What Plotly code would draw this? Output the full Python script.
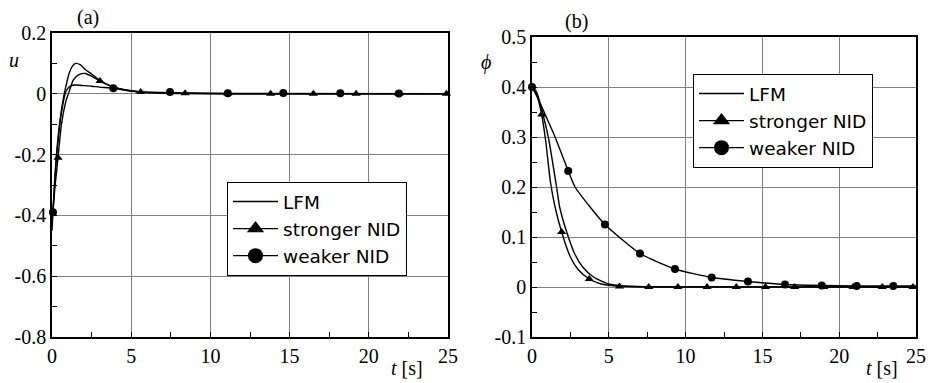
import plotly.graph_objects as go

# ---------------- data: panel (a)  u(t) ----------------
t_lfm_a = [0, 0.15, 0.3, 0.5, 0.7, 0.9, 1.1, 1.3, 1.5, 1.8, 2.1, 2.5, 3.0, 3.5, 4.0, 4.9, 6.0, 8.0, 12.0, 25.0]
u_lfm_a = [-0.45, -0.30, -0.19, -0.09, -0.02, 0.03, 0.07, 0.092, 0.10, 0.095, 0.08, 0.065, 0.045, 0.03, 0.02, 0.01, 0.004, 0.001, 0.0, 0.0]

t_str_a = [0, 0.2, 0.38, 0.6, 0.9, 1.1, 1.35, 1.7, 2.1, 2.5, 3.03, 3.5, 4.0, 4.9, 5.6, 7.0, 8.4, 12.0, 25.0]
u_str_a = [-0.42, -0.30, -0.21, -0.10, -0.02, 0.01, 0.046, 0.063, 0.067, 0.058, 0.042, 0.03, 0.02, 0.011, 0.006, 0.003, 0.002, 0.0, 0.0]

t_wk_a = [0.06, 0.3, 0.6, 0.9, 1.2, 1.45, 2.0, 2.5, 3.0, 3.87, 4.9, 5.6, 7.45, 11.0, 25.0]
u_wk_a = [-0.39, -0.20, -0.06, 0.01, 0.027, 0.029, 0.027, 0.025, 0.022, 0.018, 0.01, 0.006, 0.004, 0.001, 0.0]

tm_str_a = [0.38, 3.03, 5.6, 8.4, 11.1, 13.8, 16.5, 19.2, 21.9, 24.9]
um_str_a = [-0.21, 0.042, 0.006, 0.002, 0.001, 0.0, 0.0, 0.0, 0.0, 0.0]
tm_wk_a = [0.06, 3.87, 7.45, 11.1, 14.6, 18.2, 21.9]
um_wk_a = [-0.39, 0.018, 0.006, 0.002, 0.003, 0.002, 0.001]

# ---------------- data: panel (b)  phi(t) ----------------
t_lfm_b = [0, 0.3, 0.63, 1.06, 1.6, 1.8, 2.26, 2.8, 3.3, 4.0, 5.0, 6.0, 8.0, 25.0]
p_lfm_b = [0.40, 0.39, 0.355, 0.30, 0.20, 0.16, 0.11, 0.065, 0.04, 0.02, 0.006, 0.002, 0.0, 0.0]

t_str_b = [0, 0.3, 0.63, 0.9, 1.2, 1.5, 1.93, 2.5, 3.0, 3.73, 4.5, 5.5, 7.0, 25.0]
p_str_b = [0.40, 0.385, 0.345, 0.29, 0.21, 0.16, 0.11, 0.06, 0.035, 0.016, 0.006, 0.002, 0.0005, 0.0]

t_wk_b = [0, 0.5, 1.0, 1.5, 2.36, 2.8, 3.78, 4.75, 7.03, 9.31, 11.7, 14.06, 16.47, 18.86, 21.14, 23.52, 25.0]
p_wk_b = [0.40, 0.37, 0.335, 0.30, 0.232, 0.20, 0.16, 0.125, 0.067, 0.036, 0.019, 0.011, 0.005, 0.003, 0.002, 0.002, 0.002]

tm_str_b = [0.63, 1.93, 3.73, 5.7, 7.6, 9.5, 11.4, 13.3, 15.2, 17.1, 19.0, 20.9, 22.8, 24.8]
pm_str_b = [0.345, 0.11, 0.016, 0.001, 0.0, 0.0, 0.0, 0.0, 0.0, 0.0, 0.0, 0.0, 0.0, 0.0]
tm_wk_b = [0, 2.36, 4.75, 7.03, 9.31, 11.7, 14.06, 16.47, 18.86, 21.14, 23.52]
pm_wk_b = [0.40, 0.232, 0.125, 0.067, 0.036, 0.019, 0.011, 0.005, 0.003, 0.002, 0.002]

# ---------------- tick labels ----------------
x_ticks = [0, 5, 10, 15, 20, 25]
x_ticktext = ["0", "5", "10", "15", "20", "25"]
ya_ticks = [0.2, 0, -0.2, -0.4, -0.6, -0.8]
ya_ticktext = ["0.2", "0", "-0.2", "-0.4", "-0.6", "-0.8"]
yb_ticks = [0.5, 0.4, 0.3, 0.2, 0.1, 0, -0.1]
yb_ticktext = ["0.5", "0.4", "0.3", "0.2", "0.1", "0", "-0.1"]

series_names = ["LFM", "stronger NID", "weaker NID"]

# ---------------- figure ----------------
fig = go.Figure()
LW = 1.4
BLACK = "black"

def add_line(x, y, xa, ya):
    fig.add_trace(go.Scatter(x=x, y=y, mode="lines", xaxis=xa, yaxis=ya,
                             line=dict(color=BLACK, width=LW, shape="spline", smoothing=0.6),
                             showlegend=False, hoverinfo="skip"))

def add_marks(x, y, xa, ya, sym, size):
    fig.add_trace(go.Scatter(x=x, y=y, mode="markers", xaxis=xa, yaxis=ya,
                             marker=dict(symbol=sym, size=size, color=BLACK),
                             showlegend=False, cliponaxis=False, hoverinfo="skip"))

# panel (a)
add_line(t_lfm_a, u_lfm_a, "x", "y")
add_line(t_str_a, u_str_a, "x", "y")
add_line(t_wk_a, u_wk_a, "x", "y")
add_marks(tm_str_a, um_str_a, "x", "y", "triangle-up", 8)
add_marks(tm_wk_a, um_wk_a, "x", "y", "circle", 8)
# panel (b)
add_line(t_lfm_b, p_lfm_b, "x2", "y2")
add_line(t_str_b, p_str_b, "x2", "y2")
add_line(t_wk_b, p_wk_b, "x2", "y2")
add_marks(tm_str_b, pm_str_b, "x2", "y2", "triangle-up", 8)
add_marks(tm_wk_b, pm_wk_b, "x2", "y2", "circle", 8)

# legend entries
symbols = [None, "triangle-up", "circle"]
for lg, xa, ya in [("legend", "x", "y"), ("legend2", "x2", "y2")]:
    for name, sym in zip(series_names, symbols):
        if sym is None:
            fig.add_trace(go.Scatter(x=[None], y=[None], mode="lines", name=name, legend=lg,
                                     xaxis=xa, yaxis=ya, line=dict(color=BLACK, width=LW)))
        else:
            fig.add_trace(go.Scatter(x=[None], y=[None], mode="lines+markers", name=name, legend=lg,
                                     xaxis=xa, yaxis=ya, line=dict(color=BLACK, width=LW),
                                     marker=dict(symbol=sym, size=15, color=BLACK)))

W, H = 933, 383
tickfont = dict(family="Liberation Serif", size=20, color="black")
common_x = dict(range=[0, 25], tickvals=x_ticks, ticktext=x_ticktext, tickfont=tickfont,
                showgrid=True, gridcolor="#808080", gridwidth=1, zeroline=False,
                showline=True, linecolor="black", linewidth=1.6, mirror=True,
                ticks="inside", ticklen=5, tickcolor="black",
                minor=dict(dtick=2.5, ticks="inside", ticklen=5, tickcolor="black", showgrid=False),
                automargin=False, fixedrange=True)
common_y = dict(tickfont=tickfont, showgrid=True, gridcolor="#808080", gridwidth=1, zeroline=False,
                showline=True, linecolor="black", linewidth=1.6, mirror=True,
                ticks="inside", ticklen=5, tickcolor="black", automargin=False, fixedrange=True)

legend_common = dict(font=dict(family="DejaVu Sans", size=18.5, color="black"),
                     bgcolor="white", bordercolor="black", borderwidth=1,
                     itemwidth=45, xanchor="left", yanchor="top", tracegroupgap=0,
                     traceorder="normal", itemclick=False, itemdoubleclick=False)

fig.update_layout(
    width=W, height=H,
    margin=dict(l=0, r=0, t=0, b=0),
    plot_bgcolor="white", paper_bgcolor="white",
    xaxis=dict(domain=[52 / W, 448 / W], anchor="y", **common_x),
    yaxis=dict(domain=[1 - 337 / H, 1 - 33 / H], anchor="x", range=[-0.8, 0.2],
               tickvals=ya_ticks, ticktext=ya_ticktext,
               minor=dict(dtick=0.1, ticks="inside", ticklen=5, tickcolor="black", showgrid=False),
               **common_y),
    xaxis2=dict(domain=[532 / W, 916 / W], anchor="y2", **common_x),
    yaxis2=dict(domain=[1 - 337 / H, 1 - 37 / H], anchor="x2", range=[-0.1, 0.5],
                tickvals=yb_ticks, ticktext=yb_ticktext,
                minor=dict(dtick=0.05, ticks="inside", ticklen=5, tickcolor="black", showgrid=False),
                **common_y),
    legend=dict(x=227 / W, y=1 - 182 / H, **legend_common),
    legend2=dict(x=693 / W, y=1 - 74 / H, **legend_common),
    showlegend=True,
)

serif = "Liberation Serif"
ann = [
    dict(text="(a)", x=88 / W, y=1 - 17 / H),
    dict(text="(b)", x=576 / W, y=1 - 21 / H),
    dict(text="<i>u</i>", x=14 / W, y=1 - 60 / H),
    dict(text="<i>ϕ</i>", x=486 / W, y=1 - 62 / H),
    dict(text="<i>t</i> [s]", x=407 / W, y=1 - 368 / H),
    dict(text="<i>t</i> [s]", x=882 / W, y=1 - 368 / H),
]
for a in ann:
    fig.add_annotation(xref="paper", yref="paper", showarrow=False, xanchor="center", yanchor="middle",
                       font=dict(family=serif, size=20, color="black"), **a)

fig.write_html("out.html", config={"displayModeBar": False},
               post_script="document.body.style.margin='0';")
